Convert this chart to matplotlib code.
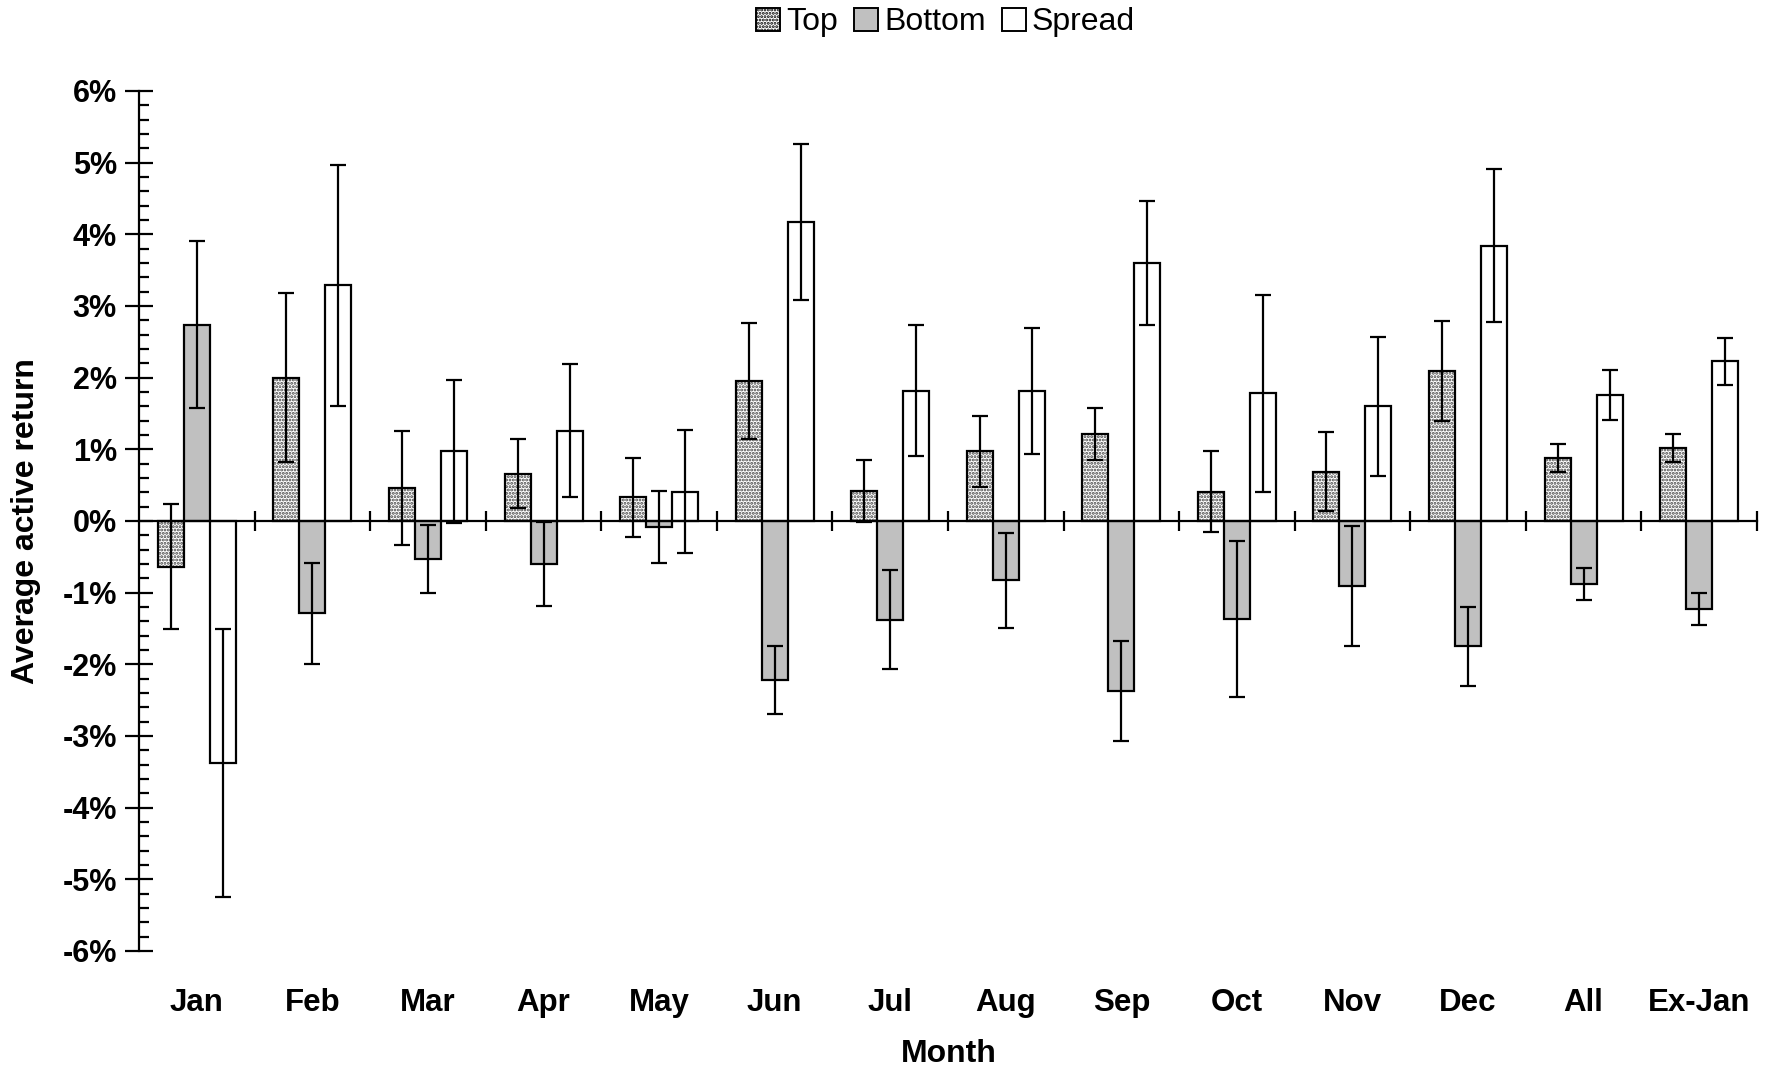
import matplotlib
matplotlib.use("Agg")
import matplotlib.pyplot as plt
import numpy as np
from matplotlib.patches import Patch
from matplotlib.ticker import MultipleLocator, FuncFormatter
import matplotlib.transforms as mtransforms

months = ["Jan", "Feb", "Mar", "Apr", "May", "Jun", "Jul", "Aug", "Sep", "Oct",
          "Nov", "Dec", "All", "Ex-Jan"]
top = [-0.64, 2.00, 0.46, 0.66, 0.33, 1.95, 0.42, 0.97, 1.21, 0.41, 0.69, 2.09, 0.88, 1.02]
top_err = [0.87, 1.18, 0.80, 0.48, 0.55, 0.81, 0.43, 0.49, 0.36, 0.57, 0.55, 0.70, 0.20, 0.20]
bottom = [2.74, -1.29, -0.53, -0.60, -0.08, -2.22, -1.38, -0.83, -2.37, -1.37, -0.91, -1.75, -0.88, -1.23]
bottom_err = [1.17, 0.71, 0.48, 0.59, 0.50, 0.47, 0.69, 0.66, 0.70, 1.09, 0.84, 0.55, 0.22, 0.22]
spread = [-3.38, 3.29, 0.97, 1.26, 0.41, 4.17, 1.82, 1.81, 3.60, 1.78, 1.60, 3.84, 1.76, 2.23]
spread_err = [1.87, 1.68, 1.00, 0.93, 0.86, 1.09, 0.92, 0.88, 0.86, 1.37, 0.97, 1.07, 0.35, 0.33]

plt.rcParams['font.family'] = ['Liberation Sans', 'DejaVu Sans']
plt.rcParams['hatch.linewidth'] = 1.4

fig = plt.figure(figsize=(17.67, 10.68), dpi=100)
ax = fig.add_axes([0.0787, 0.1096, 0.9156, 0.8052])

x = np.arange(len(months))
w = 0.225
lw = 1.6
ekw = dict(ecolor='black', elinewidth=1.6, capsize=6, capthick=1.6)

# Top (dotted)
ax.bar(x - w, top, w, color='white', hatch='.....', edgecolor='#444444', linewidth=0, zorder=2)
ax.bar(x - w, top, w, fill=False, edgecolor='black', linewidth=lw, zorder=3)
ax.errorbar(x - w, top, yerr=top_err, fmt='none', zorder=4, **ekw)
# Bottom (gray)
ax.bar(x, bottom, w, color='#c0c0c0', edgecolor='black', linewidth=lw, zorder=3)
ax.errorbar(x, bottom, yerr=bottom_err, fmt='none', zorder=4, **ekw)
# Spread (white)
ax.bar(x + w, spread, w, color='white', edgecolor='black', linewidth=lw, zorder=3)
ax.errorbar(x + w, spread, yerr=spread_err, fmt='none', zorder=4, **ekw)

ax.set_xlim(-0.5, len(months) - 0.5)
ax.set_ylim(-6, 6)

for s in ['top', 'right']:
    ax.spines[s].set_visible(False)
ax.spines['bottom'].set_position(('data', 0))
ax.spines['bottom'].set_linewidth(1.6)
ax.spines['bottom'].set_zorder(5)
ax.spines['left'].set_linewidth(1.6)

ax.set_xticks(np.arange(len(months)) + 0.5)
ax.set_xticklabels([])
ax.tick_params(axis='x', direction='inout', length=14, width=1.6)

ax.yaxis.set_major_locator(MultipleLocator(1))
ax.yaxis.set_minor_locator(MultipleLocator(0.2))
ax.yaxis.set_major_formatter(FuncFormatter(lambda v, p: f"{v:.0f}%"))
ax.tick_params(axis='y', which='major', direction='inout', length=20, width=1.6,
               labelsize=22, pad=6)
ax.tick_params(axis='y', which='minor', direction='in', length=7, width=1.6)
for lab in ax.get_yticklabels():
    lab.set_fontweight('bold')

trans = mtransforms.blended_transform_factory(ax.transData, ax.transAxes)
for i, m in enumerate(months):
    ax.text(i, -0.06, m, transform=trans, ha='center', va='center',
            fontsize=22.5, fontweight='bold')

fig.text(0.537, 0.013, "Month", ha='center', va='center', fontsize=23, fontweight='bold')
fig.text(0.0145, 0.512, "Average active return", ha='center', va='center',
         fontsize=23, fontweight='bold', rotation=90)

handles = [Patch(facecolor='white', hatch='.....', edgecolor='black', linewidth=1.4),
           Patch(facecolor='#c0c0c0', edgecolor='black', linewidth=1.4),
           Patch(facecolor='white', edgecolor='black', linewidth=1.4)]
fig.legend(handles, ["Top", "Bottom", "Spread"], loc='center', bbox_to_anchor=(0.535, 0.979),
           ncol=3, frameon=False, fontsize=23, handlelength=0.75, handleheight=0.75,
           handletextpad=0.2, columnspacing=0.5)

fig.savefig("out.png", dpi=100)
